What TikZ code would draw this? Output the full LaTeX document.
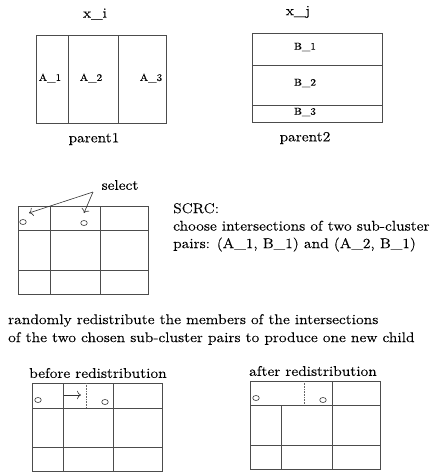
\documentclass[tikz,border=0pt]{standalone}
\usepackage{fontspec}
\setmainfont{Latin Modern Roman}[FakeStretch=1.12, FakeBold=0.2]
\usepackage{tikz}
\usetikzlibrary{arrows.meta, positioning, shapes.geometric}

\begin{document}
\begin{tikzpicture}[
  x=1pt, y=-1pt,
  grid/.style={draw=black!70, line width=0.6pt},
  cut/.style={draw=black!60, densely dotted, line width=0.6pt},
  lab/.style={font=\fontsize{10}{11}\selectfont, inner sep=0pt},
  txt/.style={font=\fontsize{14}{18}\selectfont, inner sep=0pt, align=left},
  member/.style={draw=black!80, ellipse, inner sep=0pt, minimum width=6.5pt,
                 minimum height=5pt, line width=0.6pt},
  arr/.style={-{To[length=4pt]}, black!80, line width=0.6pt}
]
  \useasboundingbox (0,0) rectangle (430,472);

  % parent 1
  \node[txt] (xi) at (95,14) {x\_i};
  \draw[grid] (36,35) rectangle (166,123);
  \draw[grid] (68,35) -- (68,123);
  \draw[grid] (118,35) -- (118,123);
  \node[lab] (a1) at (50,78) {A\_1};
  \node[lab] (a2) at (91,78) {A\_2};
  \node[lab] (a3) at (151,78) {A\_3};
  \node[txt] (p1) at (94,139) {parent1};

  % parent 2
  \node[txt] (xj) at (298,12) {x\_j};
  \draw[grid] (252,33) rectangle (382,122);
  \draw[grid] (252,65) -- (382,65);
  \draw[grid] (252,105) -- (382,105);
  \node[lab] (b1) at (305,47) {B\_1};
  \node[lab] (b2) at (305,83) {B\_2};
  \node[lab] (b3) at (305,112) {B\_3};
  \node[txt] (p2) at (305,138) {parent2};

  % intersections
  \draw[grid] (18,206) rectangle (148,294);
  \draw[grid] (50,206) -- (50,294);
  \draw[grid] (100,206) -- (100,294);
  \draw[grid] (18,230) -- (148,230);
  \draw[grid] (18,270) -- (148,270);
  \node[member] (c1) at (23,222) {};
  \node[member] (c2) at (84,223) {};
  \node[txt] (select) at (120,185) {select};
  \coordinate (fork) at (93,192);
  \coordinate (to1) at (29,213);
  \coordinate (to2) at (84,213);
  \draw[arr] (fork) -- (to1);
  \draw[arr] (fork) -- (to2);

  \node[txt, anchor=north west, font=\fontsize{14}{17.5}\selectfont] (scrc) at (173,203)
    {SCRC:\\choose intersections of two sub-cluster\\pairs: (A\_1, B\_1) and (A\_2, B\_1)};

  \node[txt, anchor=north west] (redist) at (8,314)
    {randomly redistribute the members of the intersections\\of the two chosen sub-cluster pairs to produce one new child};

  % before
  \node[txt] (before) at (98,373) {before redistribution};
  \draw[grid] (32,383) rectangle (162,471);
  \draw[grid] (63,383) -- (63,471);
  \draw[grid] (113,383) -- (113,471);
  \draw[grid] (32,408) -- (162,408);
  \draw[grid] (32,447) -- (162,447);
  \draw[cut] (86,383) -- (86,408);
  \node[member] (d1) at (38,400) {};
  \node[member] (d2) at (105,402) {};
  \coordinate (mv0) at (64,395);
  \coordinate (mv1) at (81,395);
  \draw[arr] (mv0) -- (mv1);

  % after
  \node[txt] (after) at (313,371) {after redistribution};
  \draw[grid] (250,381) rectangle (380,469);
  \draw[grid] (332,381) -- (332,469);
  \draw[grid] (281,405) -- (281,469);
  \draw[grid] (250,405) -- (380,405);
  \draw[grid] (250,445) -- (380,445);
  \draw[cut] (304,381) -- (304,405);
  \node[member] (e1) at (256,398) {};
  \node[member] (e2) at (323,400) {};
\end{tikzpicture}
\end{document}
